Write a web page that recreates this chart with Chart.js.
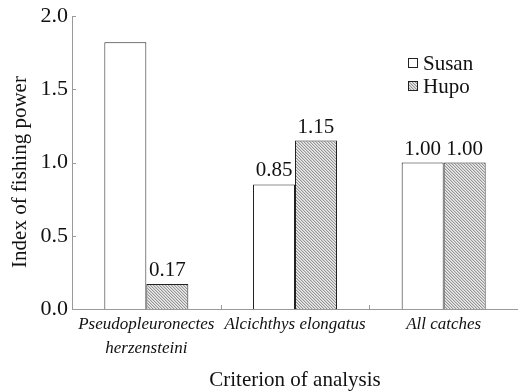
<!DOCTYPE html>
<html><head><meta charset="utf-8">
<style>html,body{margin:0;padding:0;background:#fff;}#wrap{width:518px;height:391px;}</style>
<script src="https://cdn.jsdelivr.net/npm/chart.js@4"></script>
</head><body><div id="wrap"><canvas id="c" width="518" height="391"></canvas></div>
<script>
const categories = [["Pseudopleuronectes","herzensteini"], "Alcichthys elongatus", "All catches"];
const susan = [1.82, 0.85, 1.00];
const hupo = [0.17, 1.15, 1.00];
const susanLabels = [null, "0.85", "1.00"];
const hupoLabels = ["0.17", "1.15", "1.00"];
const yTicks = [0, 0.5, 1.0, 1.5, 2.0];
const seriesNames = ["Susan", "Hupo"];
const xTitle = "Criterion of analysis";
const yTitle = "Index of fishing power";

function makePattern(){
  const p = document.createElement('canvas'); p.width = 3; p.height = 3;
  const g = p.getContext('2d');
  const cols = ['#959595', '#cfcfcf', '#ececec'];
  for (let x=0;x<3;x++) for (let y=0;y<3;y++){
    const d = ((x - y) % 3 + 3) % 3;
    g.fillStyle = cols[d]; g.fillRect(x,y,1,1);
  }
  return g.createPattern(p,'repeat');
}
const ctx0 = document.getElementById('c').getContext('2d');
const hatch = makePattern();
const SERIF = "'Liberation Serif','Times New Roman',serif";

const decor = {
  id:'decor',
  afterDraw(chart){
    const ctx = chart.ctx, ca = chart.chartArea;
    const xs = chart.scales.x, ys = chart.scales.y;
    ctx.save();
    ctx.strokeStyle = '#9a9a9a'; ctx.lineWidth = 1;
    ctx.beginPath();
    ctx.moveTo(ca.left+0.5, ca.top); ctx.lineTo(ca.left+0.5, ca.bottom+0.5);
    ctx.lineTo(ca.right, ca.bottom+0.5);
    ctx.stroke();
    ctx.beginPath();
    yTicks.forEach(v=>{ const y=Math.round(ys.getPixelForValue(v))+0.5; ctx.moveTo(ca.left, y); ctx.lineTo(ca.left+4, y); });
    const n = categories.length;
    for (let i=1;i<n;i++){
      const x = Math.round((xs.getPixelForTick(i-1)+xs.getPixelForTick(i))/2)+0.5;
      ctx.moveTo(x, ca.bottom); ctx.lineTo(x, ca.bottom-4);
    }
    ctx.stroke();
    ctx.fillStyle = '#111'; ctx.font = '22px '+SERIF;
    ctx.textAlign = 'right'; ctx.textBaseline = 'middle';
    yTicks.forEach(v=>{ ctx.fillText(v.toFixed(1), ca.left-4, ys.getPixelForValue(v)); });
    ctx.font = '21px '+SERIF;
    ctx.textAlign = 'center'; ctx.textBaseline = 'alphabetic';
    [susanLabels, hupoLabels].forEach((labs, di)=>{
      const meta = chart.getDatasetMeta(di);
      meta.data.forEach((el,i)=>{ if(labs[i]) ctx.fillText(labs[i], el.x, el.y-8); });
    });
    const lx = 408, ly = [63, 86];
    chart.data.datasets.forEach((ds,i)=>{
      ctx.fillStyle = ds.backgroundColor; ctx.fillRect(lx, ly[i]-5, 10, 10);
      ctx.strokeStyle = '#222'; ctx.strokeRect(lx+0.5, ly[i]-4.5, 9, 9);
      ctx.fillStyle = '#111'; ctx.textAlign='left'; ctx.textBaseline='middle';
      ctx.fillText(seriesNames[i], lx+15, ly[i]+1);
    });
    ctx.textAlign='center'; ctx.textBaseline='middle';
    ctx.fillText(xTitle, (ca.left+ca.right)/2, 380);
    ctx.save(); ctx.translate(20, 172); ctx.rotate(-Math.PI/2);
    ctx.fillText(yTitle, 0, 0); ctx.restore();
    ctx.restore();
  }
};

new Chart(ctx0, {
  type:'bar',
  data:{ labels: categories, datasets:[
    {label:seriesNames[0], data:susan, backgroundColor:'#ffffff', borderColor:'#222', borderWidth:1, categoryPercentage:0.565, barPercentage:1.0},
    {label:seriesNames[1], data:hupo, backgroundColor:hatch, borderColor:'#222', borderWidth:1, categoryPercentage:0.565, barPercentage:1.0}
  ]},
  plugins:[decor],
  options:{
    responsive:false, animation:false, devicePixelRatio:1,
    layout:{padding:{top:16, right:0, left:0, bottom:0}},
    plugins:{legend:{display:false}, tooltip:{enabled:false}},
    scales:{
      x:{ grid:{display:false, drawTicks:false}, border:{display:false},
          ticks:{ font:{family:SERIF, size:17, style:'italic', lineHeight:1.4}, color:'#111', padding:4, maxRotation:0, autoSkip:false },
          afterFit(s){ s.height = 82; } },
      y:{ min:0, max:2.0, grid:{display:false, drawTicks:false}, border:{display:false},
          ticks:{ display:false, stepSize:0.5 },
          afterFit(s){ s.width = 72; } }
    }
  }
});
</script></body></html>
